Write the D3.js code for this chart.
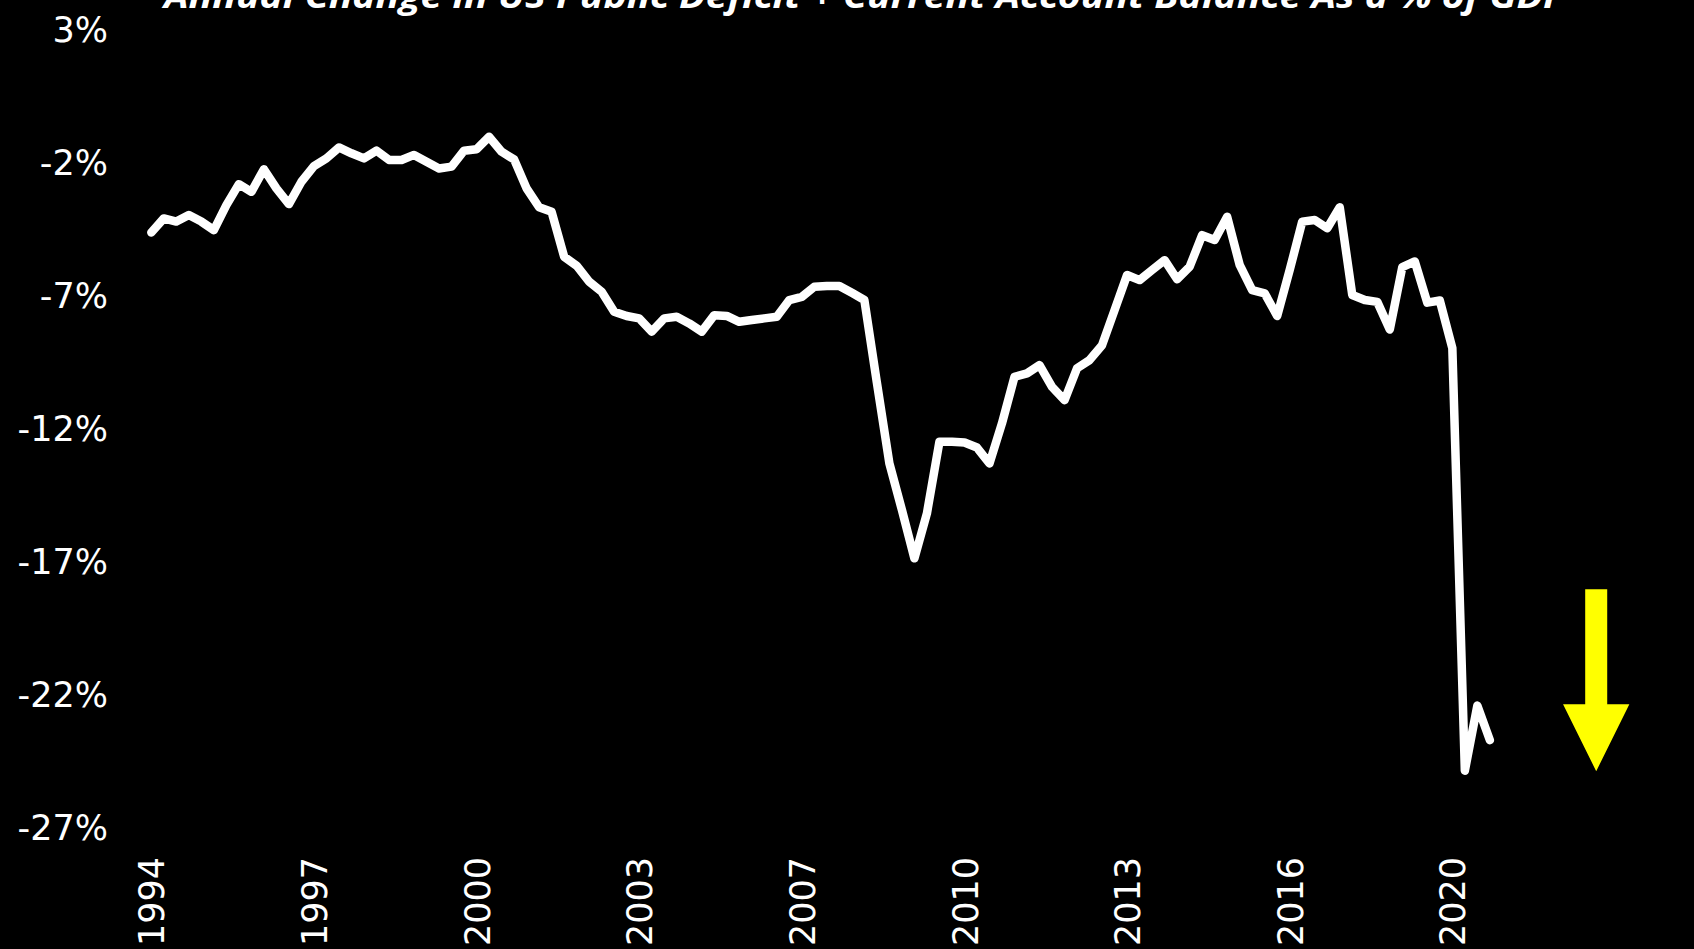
<!DOCTYPE html>
<html>
<head>
<meta charset="utf-8">
<script src="https://cdn.jsdelivr.net/npm/d3@7"></script>
<style>
  html, body { margin: 0; padding: 0; background: #000; }
  svg { display: block; }
</style>
</head>
<body>
<svg id="chart" width="1694" height="949"></svg>
<script>
// Quarterly series, 1994 Q1 .. 2020 Q4 (% of GDP)
const startYear = 1994;
const values = [
  -4.65, -4.12, -4.24, -3.99, -4.24, -4.56, -3.62, -2.83, -3.12, -2.27,
  -2.99, -3.58, -2.74, -2.15, -1.86, -1.45, -1.67, -1.86, -1.57, -1.92,
  -1.92, -1.73, -1.99, -2.24, -2.17, -1.57, -1.52, -1.05, -1.61, -1.90,
  -2.99, -3.70, -3.87, -5.56, -5.90, -6.50, -6.88, -7.63, -7.79, -7.88,
  -8.38, -7.88, -7.82, -8.07, -8.38, -7.76, -7.79, -8.01, -7.94, -7.88,
  -7.82, -7.19, -7.07, -6.69, -6.66, -6.66, -6.92, -7.19, -10.30, -13.34,
  -15.09, -16.91, -15.22, -12.52, -12.52, -12.55, -12.74, -13.34, -11.83, -10.08,
  -9.95, -9.64, -10.46, -10.96, -9.76, -9.45, -8.89, -7.57, -6.25, -6.44,
  -6.06, -5.69, -6.41, -5.94, -4.75, -4.93, -4.06, -5.87, -6.82, -6.94,
  -7.79, -6.06, -4.24, -4.18, -4.49, -3.70, -7.00, -7.19, -7.26, -8.30,
  -5.95, -5.74, -7.29, -7.21, -9.00, -24.90, -22.45, -23.75
];
// Category labels: one per quarter
const quarters = values.map((_, i) => `${startYear + Math.floor(i / 4)} Q${(i % 4) + 1}`);
// Every 13th category gets a year label
const labelEvery = 13;
const yTicks = [3, -2, -7, -12, -17, -22, -27];
const title = "Annual Change in US Public Deficit + Current Account Balance As a % of GDP";

// Downward arrow annotation (in data units)
const arrow = { idx: 115.5, top: -18.07, headBase: -22.4, tip: -24.92, shaftHalf: 0.88, headHalf: 2.65 };

const svg = d3.select("#chart");

const x = d3.scalePoint()
  .domain(quarters)
  .range([151.3, 151.3 + 12.51 * (quarters.length - 1)]);
const xi = d3.scaleLinear().domain([0, quarters.length - 1]).range(x.range());
const y = d3.scaleLinear().domain([-27, 3]).range([826.5, 29.2]);

// Title (runs off the top edge)
svg.append("text")
  .attr("x", 164)
  .attr("y", 8)
  .attr("textLength", 1403)
  .attr("lengthAdjust", "spacingAndGlyphs")
  .attr("fill", "#fff")
  .attr("font-family", "'Open Sans', sans-serif")
  .attr("font-weight", "bold")
  .attr("font-style", "italic")
  .attr("font-size", 34)
  .text(title);

// Y axis labels
const yAxis = d3.axisLeft(y).tickValues(yTicks).tickSize(0).tickPadding(0)
  .tickFormat(d => d + "%");
const gy = svg.append("g").attr("transform", "translate(108,0)").call(yAxis);
gy.select(".domain").remove();
gy.selectAll("text")
  .attr("fill", "#fff")
  .attr("font-family", "'DejaVu Sans', Verdana, sans-serif")
  .attr("font-size", 35)
  .attr("dy", "0.36em");

// X axis labels (rotated, every 13th quarter)
const xAxis = d3.axisBottom(x)
  .tickValues(quarters.filter((_, i) => i % labelEvery === 0))
  .tickSize(0).tickPadding(0)
  .tickFormat(d => d.slice(0, 4));
const gx = svg.append("g").attr("transform", "translate(0,857)").call(xAxis);
gx.select(".domain").remove();
gx.selectAll("text")
  .attr("fill", "#fff")
  .attr("font-family", "'DejaVu Sans', Verdana, sans-serif")
  .attr("font-size", 35)
  .attr("text-anchor", "end")
  .attr("transform", "rotate(-90)")
  .attr("x", 0)
  .attr("y", 0)
  .attr("dy", "0.36em");

// Series line
const line = d3.line()
  .x((d, i) => x(quarters[i]))
  .y(d => y(d));
svg.append("path")
  .datum(values)
  .attr("d", line)
  .attr("fill", "none")
  .attr("stroke", "#fff")
  .attr("stroke-width", 8.5)
  .attr("stroke-linejoin", "round")
  .attr("stroke-linecap", "round");

// Yellow arrow
const ax = xi(arrow.idx);
const sw = xi(arrow.idx + arrow.shaftHalf) - ax;
const hw = xi(arrow.idx + arrow.headHalf) - ax;
const arrowPts = [
  [ax - sw, y(arrow.top)], [ax + sw, y(arrow.top)],
  [ax + sw, y(arrow.headBase)], [ax + hw, y(arrow.headBase)],
  [ax, y(arrow.tip)],
  [ax - hw, y(arrow.headBase)], [ax - sw, y(arrow.headBase)]
];
svg.append("path")
  .attr("d", d3.line()(arrowPts) + "Z")
  .attr("fill", "#ffff00");
</script>
</body>
</html>
